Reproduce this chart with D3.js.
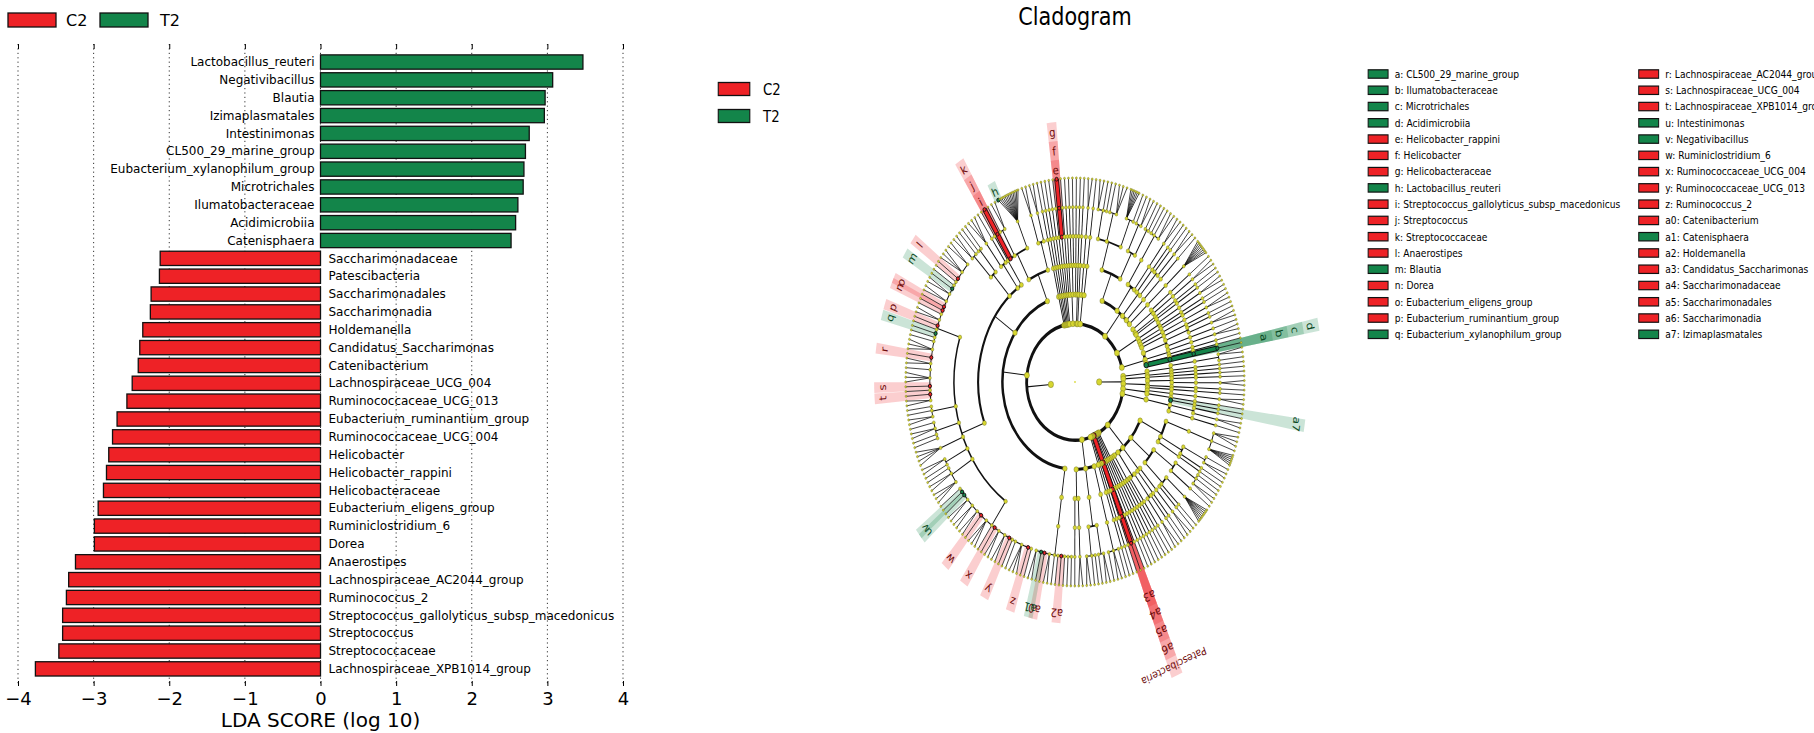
<!DOCTYPE html>
<html lang="en">
<head>
<meta charset="UTF-8">
<title>LEfSe: LDA scores and cladogram</title>
<script src="https://d3js.org/d3.v7.min.js"></script>
<style>
  html, body { margin: 0; padding: 0; background: #fff; }
  svg { display: block; font-family: "DejaVu Sans", sans-serif; }
</style>
</head>
<body>
<svg id="chart" width="1814" height="733"></svg>
<script>
// ---------- LDA bar chart data (top to bottom) ----------
const taxa = [
  "Lactobacillus_reuteri", "Negativibacillus", "Blautia", "Izimaplasmatales", "Intestinimonas",
  "CL500_29_marine_group", "Eubacterium_xylanophilum_group", "Microtrichales", "Ilumatobacteraceae",
  "Acidimicrobiia", "Catenisphaera", "Saccharimonadaceae", "Patescibacteria", "Saccharimonadales",
  "Saccharimonadia", "Holdemanella", "Candidatus_Saccharimonas", "Catenibacterium",
  "Lachnospiraceae_UCG_004", "Ruminococcaceae_UCG_013", "Eubacterium_ruminantium_group",
  "Ruminococcaceae_UCG_004", "Helicobacter", "Helicobacter_rappini", "Helicobacteraceae",
  "Eubacterium_eligens_group", "Ruminiclostridium_6", "Dorea", "Anaerostipes",
  "Lachnospiraceae_AC2044_group", "Ruminococcus_2", "Streptococcus_gallolyticus_subsp_macedonicus",
  "Streptococcus", "Streptococcaceae", "Lachnospiraceae_XPB1014_group"
];
const ldaScores = [
  3.47, 3.07, 2.97, 2.96, 2.76, 2.71, 2.69, 2.68, 2.61, 2.58, 2.52,
  -2.12, -2.13, -2.24, -2.25, -2.35, -2.39, -2.41, -2.49, -2.56, -2.69, -2.75,
  -2.80, -2.83, -2.87, -2.94, -2.99, -2.99, -3.24, -3.33, -3.36, -3.41, -3.41, -3.46, -3.77
];
const xTicks = [-4, -3, -2, -1, 0, 1, 2, 3, 4];

const groups = ["C2", "T2"];
const groupColors = ["#ee2226", "#13854a"];
const labelColors = ["#6e0b0b", "#0b4a24"];

// ---------- cladogram legend ----------
const cladeKeys = ["a","b","c","d","e","f","g","h","i","j","k","l","m","n","o","p","q",
  "r","s","t","u","v","w","x","y","z","a0","a1","a2","a3","a4","a5","a6","a7"];
const cladeNames = [
  "CL500_29_marine_group", "Ilumatobacteraceae", "Microtrichales", "Acidimicrobiia",
  "Helicobacter_rappini", "Helicobacter", "Helicobacteraceae", "Lactobacillus_reuteri",
  "Streptococcus_gallolyticus_subsp_macedonicus", "Streptococcus", "Streptococcaceae",
  "Anaerostipes", "Blautia", "Dorea", "Eubacterium_eligens_group",
  "Eubacterium_ruminantium_group", "Eubacterium_xylanophilum_group",
  "Lachnospiraceae_AC2044_group", "Lachnospiraceae_UCG_004", "Lachnospiraceae_XPB1014_group",
  "Intestinimonas", "Negativibacillus", "Ruminiclostridium_6", "Ruminococcaceae_UCG_004",
  "Ruminococcaceae_UCG_013", "Ruminococcus_2", "Catenibacterium", "Catenisphaera",
  "Holdemanella", "Candidatus_Saccharimonas", "Saccharimonadaceae", "Saccharimonadales",
  "Saccharimonadia", "Izimaplasmatales"
];
const cladeGroups = ["T2","T2","T2","T2","C2","C2","C2","T2","C2","C2","C2","C2","T2","C2",
  "C2","C2","T2","C2","C2","C2","T2","T2","C2","C2","C2","C2","C2","T2","C2","C2","C2","C2","C2","T2"];
// phylum-level biomarker shown by full name on the cladogram
const phylumMarkers = ["Patescibacteria"];
const phylumGroups = ["C2"];

// ---------- taxonomy (phylum > class > order > family > genus > species) ----------
// a number n = unnamed lineage ending in a genus with n species; a string = named single lineage
const k2Phyla = [
  ["", ["", ["", ["", 2, 1]], 1], 1],
  1,
  ["", ["", 1, 2], 1, 1],
  ["", 2, 1]
];
const tenericutes = ["", ["", "Izimaplasmatales", ["", 1, 2], 1]];
const proteoLike = ["",
  ["", ["", ["", 3, 1, 6]], ["", ["", 1, 2], ["", 1]], 1],
  ["", ["", ["", 1, 1, 2], ["", 1]], ["", ["", 8], 1, 1]],
  ["", 2, 1],
  ["", ["", 1, 2], 1],
  ["", 1, 1],
  1];
const minorPhylaA = [1, 1, 1, 1, 1];
const patescibacteria = ["Patescibacteria", ["Saccharimonadia", ["Saccharimonadales",
  ["Saccharimonadaceae", ["Candidatus_Saccharimonas", 1]]]]];
const minorPhylaB = [1, 1, 1];
const phylumX = ["", ["", ["", ["", 1, 2, 1]]], ["", ["", ["", 2, 1], ["", 1, 1, 2]]], ["", 2, 1]];
const firmicutes = ["Firmicutes",
  ["Erysipelotrichia", ["Erysipelotrichales", ["Erysipelotrichaceae",
    1, 1, 1, "Holdemanella", 1, 1, 2, "Catenibacterium", "Catenisphaera", 2]]],
  ["Clostridia",
    ["Clostridiales",
      ["Ruminococcaceae", 1, "Ruminococcus_2", 3, 1, 1, "Ruminococcaceae_UCG_013", 2, 2,
        "Ruminococcaceae_UCG_004", 1, 3, "Ruminiclostridium_6", 2, 2, 2,
        "Intestinimonas", "Negativibacillus", 1],
      ["", 3, 2, 1], ["", 1, 2], ["", 4], ["", 1, 1, 2, 1], ["", 2, 1, 1],
      ["Lachnospiraceae", 2, "Lachnospiraceae_XPB1014_group", 1, "Lachnospiraceae_UCG_004",
        3, 1, 2, "Lachnospiraceae_AC2044_group", 3, 1, 1, "Eubacterium_xylanophilum_group", 1,
        "Eubacterium_ruminantium_group", 2, 1, "Dorea", "Eubacterium_eligens_group", 2, 2,
        "Blautia", 1, 1, "Anaerostipes", 3, 2]
    ],
    ["", ["", 2, 1], ["", 1, 1]], ["", ["", 3], 1], 1
  ],
  ["Bacilli",
    ["Lactobacillales",
      ["Streptococcaceae", ["Streptococcus", "Streptococcus_gallolyticus_subsp_macedonicus"]],
      ["", 1, 2],
      ["Lactobacillaceae", ["Lactobacillus", "Lactobacillus_reuteri", 12]]],
    ["", 2, 2]
  ]
];
const minorPhylaC = [1, 1, 1, 1, 1];
const campylobacterota = ["", ["", ["", ["Helicobacteraceae", ["Helicobacter", "Helicobacter_rappini"]]]]];
const topGroup = [["", 1, 1, ["", 1, 1], 1], 1, 1, ["", 2, 1]];
const bacteroidetes = ["",
  ["", ["", ["", 2, 1, 1], ["", 1, 3], ["", 6, 1]], ["", ["", 1, 2], ["", 1, 1]]],
  ["", ["", ["", 1, 1, 2]], ["", 2]],
  ["", 1, ["", 1, 2]],
  1,
  ["", 8]];
const phylumY = ["", ["", 1, 2], 1, 1, ["", 2, 1], 1, 2, 1];
const actinobacteria = ["", ["", ["", 1, 2], 1], ["", 2, 1], 1,
  ["Acidimicrobiia", ["Microtrichales", ["Ilumatobacteraceae", ["CL500_29_marine_group", 1]]]]];

const k1Phyla = [tenericutes, proteoLike, ...minorPhylaA, patescibacteria, ...minorPhylaB,
  phylumX, firmicutes, ...minorPhylaC, campylobacterota, ...topGroup, bacteroidetes,
  phylumY, actinobacteria];

// ====================================================================
const svg = d3.select("#chart");

// ---------------- left panel: LDA scores ----------------
const x = d3.scaleLinear().domain([-4, 4]).range([18, 623]);
const y = d3.scaleBand().domain(taxa).range([53.1, 677.8]).paddingInner(0.2).paddingOuter(0.1);
const gridTop = 44, gridBottom = 686;
const colorOf = g => groupColors[groups.indexOf(g)];

const left = svg.append("g");

left.append("g").selectAll("line")
  .data(xTicks)
  .join("line")
    .attr("x1", d => x(d)).attr("x2", d => x(d))
    .attr("y1", gridTop).attr("y2", gridBottom)
    .attr("stroke", "#333").attr("stroke-width", 1)
    .attr("stroke-dasharray", "1.2,3.2");

const bottomAxis = left.append("g")
  .attr("transform", `translate(0,${gridBottom})`)
  .call(d3.axisBottom(x).tickValues(xTicks).tickSize(-5).tickPadding(6));
bottomAxis.select(".domain").remove();
bottomAxis.selectAll("text").attr("font-size", 18).attr("font-family", "DejaVu Sans").attr("fill", "#000");
bottomAxis.selectAll("line").attr("stroke", "#000");

const topAxis = left.append("g")
  .attr("transform", `translate(0,${gridTop})`)
  .call(d3.axisTop(x).tickValues(xTicks).tickSize(-5).tickFormat(""));
topAxis.select(".domain").remove();
topAxis.selectAll("line").attr("stroke", "#000");

left.append("text")
  .attr("x", (x.range()[0] + x.range()[1]) / 2).attr("y", 727)
  .attr("text-anchor", "middle").attr("font-size", 20)
  .text("LDA SCORE (log 10)");

left.append("g").selectAll("rect")
  .data(taxa)
  .join("rect")
    .attr("x", (d, i) => x(Math.min(0, ldaScores[i])))
    .attr("width", (d, i) => Math.abs(x(ldaScores[i]) - x(0)))
    .attr("y", d => y(d))
    .attr("height", y.bandwidth())
    .attr("fill", (d, i) => ldaScores[i] > 0 ? colorOf("T2") : colorOf("C2"))
    .attr("stroke", "#111").attr("stroke-width", 1.3);

left.append("g").selectAll("text")
  .data(taxa)
  .join("text")
    .attr("x", (d, i) => ldaScores[i] > 0 ? x(0) - 6 : x(0) + 8)
    .attr("y", d => y(d) + y.bandwidth() / 2)
    .attr("dy", "0.35em")
    .attr("text-anchor", (d, i) => ldaScores[i] > 0 ? "end" : "start")
    .attr("font-size", 12)
    .text(d => d);

// legend above the bars
const topLegend = left.append("g");
groups.forEach((g, i) => {
  topLegend.append("rect")
    .attr("x", 8 + i * 92).attr("y", 13).attr("width", 48).attr("height", 14)
    .attr("fill", groupColors[i]).attr("stroke", "#111").attr("stroke-width", 1.3);
  topLegend.append("text")
    .attr("x", 66 + i * 94).attr("y", 20).attr("dy", "0.35em")
    .attr("font-size", 16).text(g);
});

// ---------------- right panel: cladogram (panel is narrowed horizontally) ----------------
const panel = svg.append("g").attr("transform", "translate(700,0) scale(0.83,1)");
const cx = 451.8, cy = 382;

panel.append("text")
  .attr("x", cx).attr("y", 25).attr("text-anchor", "middle")
  .attr("font-size", 25).text("Cladogram");

groups.forEach((g, i) => {
  panel.append("rect")
    .attr("x", 22).attr("y", 82.5 + i * 27).attr("width", 38).attr("height", 13)
    .attr("fill", groupColors[i]).attr("stroke", "#111").attr("stroke-width", 1.3);
  panel.append("text")
    .attr("x", 76).attr("y", 89 + i * 27).attr("dy", "0.35em")
    .attr("font-size", 16).text(g);
});

// letter legend, two columns (the right column runs off the edge, as in the figure)
const legendRows = 17;
const legend = panel.append("g");
cladeKeys.forEach((k, i) => {
  const col = Math.floor(i / legendRows), row = i % legendRows;
  const lx = col === 0 ? 805 : 1131, ly = 74 + row * 16.27;
  legend.append("rect")
    .attr("x", lx).attr("y", ly - 4.2).attr("width", 24).attr("height", 8.4)
    .attr("fill", colorOf(cladeGroups[i])).attr("stroke", "#111").attr("stroke-width", 1.2);
  legend.append("text")
    .attr("x", lx + 32).attr("y", ly).attr("dy", "0.35em")
    .attr("font-size", 11).text(`${k}: ${cladeNames[i]}`);
});

// build hierarchy
function expand(item, depth) {
  if (depth === 7) {
    if (typeof item === "number") return d3.range(item).map(() => ({ name: "" }));
    return [{ name: item }];
  }
  if (typeof item === "number") return [{ name: "", children: expand(item, depth + 1) }];
  if (typeof item === "string") return [{ name: item, children: expand(1, depth + 1) }];
  const [name, ...kids] = item;
  const children = kids.length ? kids.flatMap(k => expand(k, depth + 1)) : expand(1, depth + 1);
  return [{ name, children }];
}
const treeData = {
  name: "root",
  children: [
    { name: "", children: k2Phyla.flatMap(p => expand(p, 2)) },
    { name: "Bacteria", children: k1Phyla.flatMap(p => expand(p, 2)) }
  ]
};

const root = d3.hierarchy(treeData);
d3.cluster()
  .nodeSize([1, 1])
  .separation((a, b) => (a.parent === b.parent && a.parent.children.length > 5) ? 0.45 : 1)(root);

const leaves = root.leaves();
const units = leaves[leaves.length - 1].x - leaves[0].x + 1;
const startAngle = 80.2 * Math.PI / 180;
const angle = d3.scaleLinear().domain([leaves[0].x, leaves[0].x + units])
  .range([startAngle, startAngle + 2 * Math.PI]);
const radius = d3.scaleLinear().domain([0, 7]).range([0, 204]);
const slot = 2 * Math.PI / units;
const pt = (a, r) => { const p = d3.pointRadial(a, r); return [cx + p[0], cy + p[1]]; };

// biomarker lookup
const marker = new Map();
cladeNames.forEach((n, i) => marker.set(n, { key: cladeKeys[i], group: cladeGroups[i] }));
phylumMarkers.forEach((n, i) => marker.set(n, { key: n, group: phylumGroups[i] }));
const isMarker = d => d.depth > 0 && marker.has(d.data.name);
const labelRadius = d => 213 + 19 * (7 - d.depth);

const clade = panel.append("g");
const markedNodes = root.descendants().filter(isMarker);

// shaded sectors behind biomarker clades
const sector = d3.arc();
clade.append("g").selectAll("path")
  .data(markedNodes)
  .join("path")
    .attr("transform", `translate(${cx},${cy})`)
    .attr("d", d => {
      const lv = d.leaves();
      return sector({
        innerRadius: radius(d.depth) - 2,
        outerRadius: labelRadius(d) + 10,
        startAngle: angle(d3.min(lv, l => l.x)) - slot * 0.95,
        endAngle: angle(d3.max(lv, l => l.x)) + slot * 0.95
      });
    })
    .attr("fill", d => colorOf(marker.get(d.data.name).group))
    .attr("fill-opacity", 0.22);

// tree branches
const arcWidth = [0, 3.4, 3.0, 2.5, 1.8, 1.1];
const branches = clade.append("g").attr("fill", "none").attr("stroke", "#111");
root.descendants().filter(d => d.depth > 0 && d.children).forEach(d => {
  const a = angle(d.x), r0 = radius(d.depth), r1 = radius(d.depth + 1);
  if (d.depth === 6) {
    d.children.forEach(c => {
      const p0 = pt(a, r0), p1 = pt(angle(c.x), r1);
      branches.append("line").attr("x1", p0[0]).attr("y1", p0[1]).attr("x2", p1[0]).attr("y2", p1[1])
        .attr("stroke-width", 0.85);
    });
    return;
  }
  const p0 = pt(a, r0), p1 = pt(a, r1);
  branches.append("line").attr("x1", p0[0]).attr("y1", p0[1]).attr("x2", p1[0]).attr("y2", p1[1])
    .attr("stroke-width", 1.05);
  if (d.children.length > 1) {
    const a0 = angle(d.children[0].x), a1 = angle(d.children[d.children.length - 1].x);
    const path = d3.path();
    const s = pt(a0, r1);
    path.moveTo(s[0], s[1]);
    path.arc(cx, cy, r1, a0 - Math.PI / 2, a1 - Math.PI / 2, false);
    branches.append("path").attr("d", path.toString()).attr("stroke-width", arcWidth[d.depth]);
  }
});

// coloured segments inside biomarker lineages
markedNodes.forEach(d => {
  (d.children || []).filter(isMarker).forEach(c => {
    const p0 = pt(angle(d.x), radius(d.depth)), p1 = pt(angle(c.x), radius(c.depth));
    clade.append("line").attr("x1", p0[0]).attr("y1", p0[1]).attr("x2", p1[0]).attr("y2", p1[1])
      .attr("stroke", "#111").attr("stroke-width", 5.6);
    clade.append("line").attr("x1", p0[0]).attr("y1", p0[1]).attr("x2", p1[0]).attr("y2", p1[1])
      .attr("stroke", colorOf(marker.get(c.data.name).group)).attr("stroke-width", 3.6);
  });
});

// nodes
const nodeRadius = [1, 3.2, 3.0, 2.7, 2.4, 2.1, 1.7, 1.15];
clade.append("g").selectAll("circle")
  .data(root.descendants())
  .join("circle")
    .attr("cx", d => d.depth ? pt(angle(d.x), radius(d.depth))[0] : cx)
    .attr("cy", d => d.depth ? pt(angle(d.x), radius(d.depth))[1] : cy)
    .attr("r", d => isMarker(d) ? Math.max(nodeRadius[d.depth], 1.9) : nodeRadius[d.depth])
    .attr("fill", d => isMarker(d) ? colorOf(marker.get(d.data.name).group) : "#d6d630")
    .attr("stroke", d => isMarker(d) ? "#111" : (d.depth ? "#6a6a22" : "none"))
    .attr("stroke-width", d => isMarker(d) ? 1 : 0.45);

// letter labels
clade.append("g").selectAll("text")
  .data(markedNodes)
  .join("text")
    .attr("transform", d => {
      const a = angle(d.x), p = pt(a, labelRadius(d));
      return `translate(${p[0]},${p[1]}) rotate(${a * 180 / Math.PI})`;
    })
    .attr("text-anchor", "middle").attr("dy", "0.35em")
    .attr("font-size", d => d.depth === 2 ? 11 : 12)
    .attr("fill", d => labelColors[groups.indexOf(marker.get(d.data.name).group)])
    .text(d => marker.get(d.data.name).key);
</script>
</body>
</html>
